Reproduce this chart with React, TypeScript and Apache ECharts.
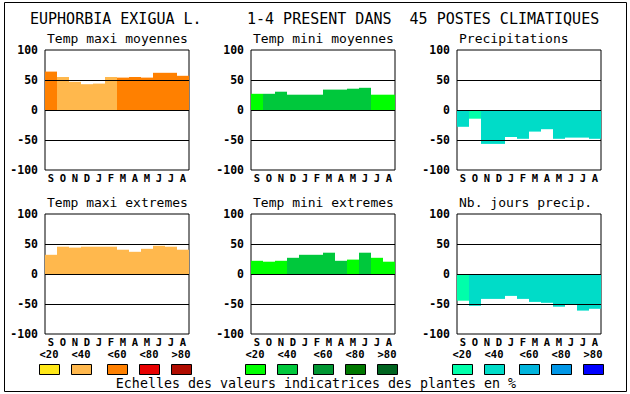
import React, { useEffect, useRef } from 'react';
import * as echarts from 'echarts';

const months = ['S', 'O', 'N', 'D', 'J', 'F', 'M', 'A', 'M', 'J', 'J', 'A'];
const panelTitles = [
  'Temp maxi moyennes',
  'Temp mini moyennes',
  'Precipitations',
  'Temp maxi extremes',
  'Temp mini extremes',
  'Nb. jours precip.',
];
const yTicks = [-100, -50, 0, 50, 100];

// values per month
const tmaxMoy = [64, 55, 47, 43, 44, 55, 54, 55, 54, 62, 62, 57];
const tminMoy = [27, 27, 30.5, 25.5, 25.5, 25.5, 34, 34, 35.5, 37, 25.5, 25.5];
const precip = [-28, -14.5, -56.5, -56.5, -45, -48, -36, -32, -48, -46, -46, -48];
const tmaxExt = [32, 45.5, 44, 45.5, 45.5, 45.5, 40.5, 37, 42, 47, 45.5, 40.5];
const tminExt = [22, 20.5, 22, 27, 32, 32, 35.5, 22, 24, 35.5, 27, 20.5];
const nbJours = [-44.5, -53, -41.5, -41.5, -36.5, -41.5, -46.5, -48, -54.5, -50, -61, -58];

// indicator class per month (1 = <20 ... 5 = >80)
const tmaxMoyClass = [3, 2, 2, 2, 2, 2, 3, 3, 3, 3, 3, 3];
const tminMoyClass = [1, 2, 2, 2, 2, 2, 2, 2, 2, 2, 1, 1];
const precipClass = [2, 1, 2, 2, 2, 2, 2, 2, 2, 2, 2, 2];
const tmaxExtClass = [2, 2, 2, 2, 2, 2, 2, 2, 2, 2, 2, 2];
const tminExtClass = [1, 1, 1, 2, 2, 2, 2, 2, 1, 2, 1, 1];
const nbJoursClass = [1, 2, 2, 2, 2, 2, 2, 2, 2, 2, 2, 2];

const warmColors = ['#FFE818', '#FFB84D', '#FF8000', '#E80000', '#B00C00'];
const greenColors = ['#00FF00', '#00C83C', '#009632', '#007800', '#006420'];
const blueColors = ['#00FFAA', '#00DCC8', '#00B4DC', '#0096E6', '#0000FF'];
const scaleLabels = ['<20', '<40', '<60', '<80', '>80'];

const mainTitleLeft = 'EUPHORBIA EXIGUA L.';
const mainTitleRight = '1-4 PRESENT DANS  45 POSTES CLIMATIQUES';
const footer = 'Echelles des valeurs indicatrices des plantes en %';

const MONO = '"DejaVu Sans Mono", "Liberation Mono", monospace';

export default function App() {
  const ref = useRef<HTMLDivElement>(null);
  useEffect(() => {
    document.body.style.margin = '0';
    const chart = echarts.init(ref.current!, null, { renderer: 'svg' });
    const values = [tmaxMoy, tminMoy, precip, tmaxExt, tminExt, nbJours];
    const classes = [tmaxMoyClass, tminMoyClass, precipClass, tmaxExtClass, tminExtClass, nbJoursClass];
    const palettes = [warmColors, greenColors, blueColors, warmColors, greenColors, blueColors];
    const lefts = [45, 251, 457];
    const tops = [50, 214];

    const grids: any[] = [];
    const xAxes: any[] = [];
    const yAxes: any[] = [];
    const series: any[] = [];
    const graphics: any[] = [];

    for (let i = 0; i < 6; i++) {
      const col = i % 3;
      const row = Math.floor(i / 3);
      grids.push({
        left: lefts[col], top: tops[row], width: 144, height: 120,
        show: true, borderColor: '#000', borderWidth: 1, backgroundColor: '#fff',
      });
      xAxes.push({
        type: 'category', gridIndex: i, data: months,
        axisLine: { show: false }, axisTick: { show: false }, splitLine: { show: false },
        axisLabel: { interval: 0, margin: 2, color: '#000', fontFamily: MONO, fontWeight: 'bold', fontSize: 10.5, lineHeight: 12 },
      });
      yAxes.push({
        type: 'value', gridIndex: i, min: yTicks[0], max: yTicks[yTicks.length - 1], interval: 50,
        axisLine: { show: false }, axisTick: { show: false }, splitLine: { show: false },
        axisLabel: { margin: 7, color: '#000', fontFamily: MONO, fontWeight: 'bold', fontSize: 11.5 },
      });
      series.push({
        type: 'bar', xAxisIndex: i, yAxisIndex: i,
        barWidth: '100%', barCategoryGap: '0%',
        data: values[i].map((v, j) => ({ value: v, itemStyle: { color: palettes[i][classes[i][j] - 1] } })),
        markLine: {
          silent: true, symbol: 'none', animation: false,
          label: { show: false },
          lineStyle: { color: '#000', width: 1, type: 'solid' },
          data: [{ yAxis: 50 }, { yAxis: 0 }, { yAxis: -50 }],
        },
      });
      graphics.push({
        type: 'text', x: lefts[col] + 2, y: tops[row] - 12,
        style: { text: panelTitles[i], font: `13px ${MONO}`, fill: '#000', textAlign: 'left', textVerticalAlign: 'middle' },
      });
    }

    // legends
    const swatchX = [
      [39, 71, 107, 139, 171],
      [245, 277, 313, 345, 377],
      [452, 484, 519, 551, 583],
    ];
    const legendPalettes = [warmColors, greenColors, blueColors];
    for (let g = 0; g < 3; g++) {
      for (let k = 0; k < 5; k++) {
        graphics.push({
          type: 'rect', shape: { x: swatchX[g][k] + 0.5, y: 364.5, width: 20, height: 10 },
          style: { fill: legendPalettes[g][k], stroke: '#000', lineWidth: 1 },
        });
        graphics.push({
          type: 'text', x: swatchX[g][k] + 10, y: 354,
          style: { text: scaleLabels[k], font: `bold 10.5px ${MONO}`, fill: '#000', textAlign: 'center', textVerticalAlign: 'middle' },
        });
      }
    }
    graphics.push({
      type: 'text', x: 316, y: 383,
      style: { text: footer, font: `13.3px ${MONO}`, fill: '#000', textAlign: 'center', textVerticalAlign: 'middle' },
    });
    graphics.push({
      type: 'text', x: 30, y: 19,
      style: { text: mainTitleLeft, font: `15px ${MONO}`, fill: '#000', textAlign: 'left', textVerticalAlign: 'middle' },
    });
    graphics.push({
      type: 'text', x: 247, y: 19,
      style: { text: mainTitleRight, font: `15px ${MONO}`, fill: '#000', textAlign: 'left', textVerticalAlign: 'middle' },
    });
    graphics.push({
      type: 'rect', shape: { x: 4.5, y: 2.5, width: 622, height: 389 },
      style: { fill: 'none', stroke: '#000', lineWidth: 1 }, z: -1,
    });

    chart.setOption({
      animation: false,
      backgroundColor: '#fff',
      grid: grids,
      xAxis: xAxes,
      yAxis: yAxes,
      series,
      graphic: graphics,
    });
    return () => chart.dispose();
  }, []);
  return <div ref={ref} style={{ width: 630, height: 394 }} />;
}
